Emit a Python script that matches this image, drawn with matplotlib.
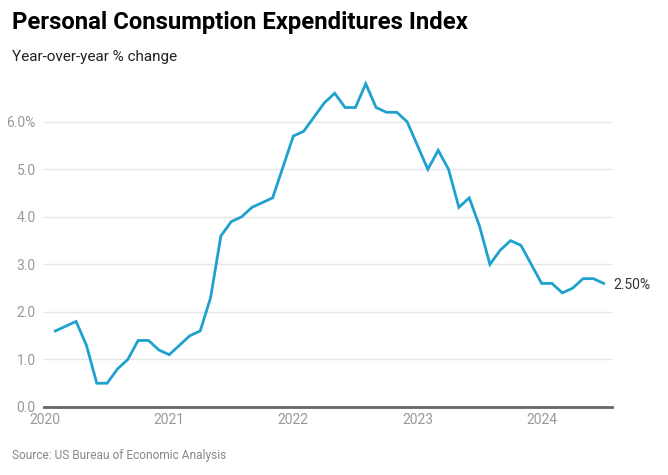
import matplotlib
matplotlib.use("Agg")
import matplotlib.pyplot as plt
import pandas as pd

# PCE year-over-year % change (monthly; a couple of months are absent in the source)
dates = ["2020-02", "2020-04", "2020-05", "2020-06", "2020-07", "2020-08", "2020-09",
         "2020-10", "2020-11", "2020-12", "2021-01", "2021-02", "2021-03", "2021-04",
         "2021-05", "2021-06", "2021-07", "2021-08", "2021-09", "2021-10", "2021-11",
         "2022-01", "2022-02", "2022-03", "2022-04", "2022-05", "2022-06", "2022-07",
         "2022-08", "2022-09", "2022-10", "2022-11", "2022-12", "2023-01", "2023-02",
         "2023-03", "2023-04", "2023-05", "2023-06", "2023-07", "2023-08", "2023-09",
         "2023-10", "2023-11", "2023-12", "2024-01", "2024-02", "2024-03", "2024-04",
         "2024-05", "2024-06", "2024-07"]
pce = [1.6, 1.8, 1.3, 0.5, 0.5, 0.8, 1.0,
       1.4, 1.4, 1.2, 1.1, 1.3, 1.5, 1.6,
       2.3, 3.6, 3.9, 4.0, 4.2, 4.3, 4.4,
       5.7, 5.8, 6.1, 6.4, 6.6, 6.3, 6.3,
       6.8, 6.3, 6.2, 6.2, 6.0, 5.5, 5.0,
       5.4, 5.0, 4.2, 4.4, 3.8, 3.0, 3.3,
       3.5, 3.4, 3.0, 2.6, 2.6, 2.4, 2.5,
       2.7, 2.7, 2.6]
last_label = "2.50%"
years = [2020, 2021, 2022, 2023, 2024]
y_ticks = [0, 1, 2, 3, 4, 5, 6]

plt.rcParams["font.family"] = ["Roboto", "DejaVu Sans"]

d = pd.to_datetime(dates)
months = (d.year - 2020) * 12 + (d.month - 1)

fig = plt.figure(figsize=(6.68, 4.75), dpi=100)
ax = fig.add_axes([44 / 668, 1 - 407 / 475, (612 - 44) / 668, (407 - 79) / 475])

for y in y_ticks[1:]:
    ax.axhline(y, color="#e6e6e6", linewidth=1, zorder=0)

ax.plot(months, pce, color="#1fa1cf", linewidth=2, solid_joinstyle="miter", zorder=3)

ax.set_xlim(-0.1, 54.8)
ax.set_ylim(0, 6.9)

ax.set_yticks(y_ticks)
ax.set_yticklabels([f"{v:.1f}%" if v == 6 else f"{v:.1f}" for v in y_ticks])
ax.set_xticks([(y - 2020) * 12 for y in years])
ax.set_xticklabels([str(y) for y in years])
ax.tick_params(axis="both", length=0, labelsize=10, labelcolor="#999999")
ax.tick_params(axis="y", pad=6)
ax.tick_params(axis="x", pad=4)

for s in ["top", "right", "left"]:
    ax.spines[s].set_visible(False)
ax.spines["bottom"].set_color("#666666")
ax.spines["bottom"].set_linewidth(2)

ax.annotate(last_label, xy=(months[-1], pce[-1]), xytext=(7, -1.5),
            textcoords="offset points", va="center", ha="left",
            fontsize=10, color="#333333", annotation_clip=False)

fig.text(12 / 668, 1 - 22 / 475, "Personal Consumption Expenditures Index",
         fontsize=17.2, fontweight="bold", color="#000000", va="center", ha="left")
fig.text(12 / 668, 1 - 57 / 475, "Year-over-year % change",
         fontsize=11, color="#222222", va="center", ha="left")
fig.text(12 / 668, 1 - 456 / 475, "Source: US Bureau of Economic Analysis",
         fontsize=8.6, color="#888888", va="center", ha="left")

fig.savefig("out.png", dpi=100)
